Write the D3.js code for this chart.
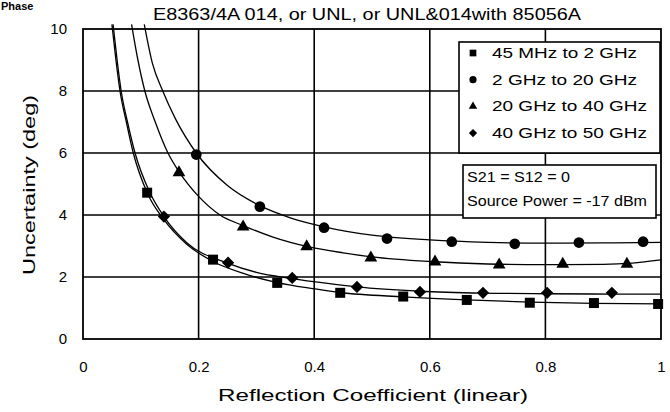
<!DOCTYPE html>
<html>
<head>
<meta charset="utf-8">
<script src="https://cdn.jsdelivr.net/npm/d3@7"></script>
<style>
	body { margin: 0; background: #fff; }
	svg { display: block; font-family: "Liberation Sans", Arial, sans-serif; }
</style>
</head>
<body>
<div id="chart"></div>
<script>

// tick labels
const xTicks = [0, 0.2, 0.4, 0.6, 0.8, 1];
const yTicks = [0, 2, 4, 6, 8, 10];

const seriesNames = ['45 MHz to 2 GHz', '2 GHz to 20 GHz', '20 GHz to 40 GHz', '40 GHz to 50 GHz'];

// measured points
const lowX = [0.111, 0.225, 0.336, 0.445, 0.554, 0.664, 0.773, 0.884, 0.995];
const lowY = [4.72, 2.56, 1.81, 1.49, 1.37, 1.26, 1.17, 1.16, 1.13];
const midX = [0.196, 0.306, 0.417, 0.526, 0.638, 0.747, 0.858, 0.969];
const midY = [5.95, 4.27, 3.59, 3.24, 3.14, 3.07, 3.11, 3.14];
const highX = [0.166, 0.277, 0.387, 0.498, 0.609, 0.720, 0.830, 0.941];
const highY = [5.37, 3.62, 2.98, 2.62, 2.49, 2.39, 2.42, 2.42];
const topX = [0.140, 0.251, 0.362, 0.474, 0.583, 0.692, 0.803, 0.915];
const topY = [3.95, 2.46, 1.97, 1.68, 1.52, 1.49, 1.49, 1.49];

// fitted curves
const lowFitX = [0.050, 0.057, 0.064, 0.075, 0.087, 0.111, 0.140, 0.180, 0.225, 0.280, 0.336, 0.400, 0.445, 0.554, 0.664, 0.773, 0.884, 1];
const lowFitY = [10.15, 9, 8, 7, 6, 4.72, 3.85, 3.05, 2.5, 2.1, 1.82, 1.62, 1.5, 1.36, 1.26, 1.19, 1.15, 1.13];
const midFitX = [0.106, 0.120, 0.138, 0.160, 0.196, 0.250, 0.306, 0.360, 0.417, 0.500, 0.600, 0.700, 0.800, 0.900, 1];
const midFitY = [10.15, 8.9, 8, 7.1, 6.0, 4.95, 4.3, 3.9, 3.62, 3.35, 3.2, 3.12, 3.09, 3.1, 3.12];
const highFitX = [0.084, 0.095, 0.107, 0.125, 0.147, 0.166, 0.200, 0.237, 0.277, 0.330, 0.389, 0.450, 0.500, 0.600, 0.700, 0.800, 0.900, 0.950, 1];
const highFitY = [10.15, 9, 8, 7, 6, 5.4, 4.6, 4.0, 3.66, 3.28, 2.98, 2.78, 2.65, 2.5, 2.42, 2.4, 2.41, 2.45, 2.55];
const topFitX = [0.052, 0.059, 0.066, 0.077, 0.090, 0.115, 0.140, 0.180, 0.250, 0.300, 0.362, 0.420, 0.474, 0.583, 0.692, 0.803, 0.915, 1];
const topFitY = [10.15, 9, 8, 7, 6, 4.75, 3.95, 3.1, 2.45, 2.15, 1.95, 1.8, 1.68, 1.54, 1.48, 1.46, 1.45, 1.45];

class UncertaintyChart {

	constructor(options) {
		this.element = options.element;
		this.series = options.series;
		this.draw();
	}

	draw() {
		this.width = 670;
		this.height = 412;
		this.left = 83;
		this.right = 661;
		this.top = 29;
		this.bottom = 339;

		this.createSVG();
		this.createScales();
		this.createGrid();
		this.createAxes();
		this.createCurves();
		this.createMarkers();
		this.createLegend();
	}

	createSVG() {
		this.svg = d3.select(this.element)
			.append('svg')
				.attr('width', this.width)
				.attr('height', this.height);

		// small heading in the top-left corner
		this.svg.append('text')
			.attr('x', 1).attr('y', 10)
			.attr('font-size', 11).attr('font-weight', 'bold')
			.text('Phase');

		this.svg.append('text')
			.attr('x', 367).attr('y', 20)
			.attr('text-anchor', 'middle')
			.attr('font-size', 16)
			.attr('textLength', 428).attr('lengthAdjust', 'spacingAndGlyphs')
			.text('E8363/4A 014, or UNL, or UNL&014with 85056A');
	}

	createScales() {
		this.xScale = d3.scaleLinear().domain([0, 1]).range([this.left, this.right]);
		this.yScale = d3.scaleLinear().domain([0, 10]).range([this.bottom, this.top]);
	}

	createGrid() {
		const g = this.svg.append('g').attr('stroke', '#000').attr('stroke-width', 1.6);

		g.selectAll('.vg').data(xTicks.slice(1, -1)).join('line')
			.attr('x1', d => this.xScale(d)).attr('x2', d => this.xScale(d))
			.attr('y1', this.top).attr('y2', this.bottom);

		g.selectAll('.hg').data(yTicks.slice(1, -1)).join('line')
			.attr('x1', this.left).attr('x2', this.right)
			.attr('y1', d => this.yScale(d)).attr('y2', d => this.yScale(d));

		this.svg.append('rect')
			.attr('x', this.left).attr('y', this.top)
			.attr('width', this.right - this.left).attr('height', this.bottom - this.top)
			.attr('fill', 'none').attr('stroke', '#000').attr('stroke-width', 1.8);
	}

	createAxes() {
		this.xAxis = d3.axisBottom(this.xScale)
			.tickValues(xTicks)
			.tickSize(0)
			.tickPadding(22)
			.tickFormat(d3.format('~g'));

		this.svg.append('g')
			.attr('class', 'xAxis')
			.attr('transform', `translate(0, ${this.bottom})`)
			.call(this.xAxis);

		this.yAxis = d3.axisLeft(this.yScale)
			.tickValues(yTicks)
			.tickSize(0)
			.tickPadding(16);

		this.svg.append('g')
			.attr('class', 'yAxis')
			.attr('transform', `translate(${this.left}, 0)`)
			.call(this.yAxis);

		this.svg.selectAll('.xAxis .domain, .yAxis .domain').remove();
		this.svg.selectAll('.xAxis text, .yAxis text')
			.attr('font-family', '"Liberation Sans", Arial, sans-serif')
			.attr('font-size', 15)
			.attr('fill', '#000');

		this.svg.append('text')
			.attr('x', 373).attr('y', 401)
			.attr('text-anchor', 'middle')
			.attr('font-size', 16)
			.attr('textLength', 310).attr('lengthAdjust', 'spacingAndGlyphs')
			.text('Reflection Coefficient (linear)');

		this.svg.append('text')
			.attr('transform', 'translate(35, 185) rotate(-90)')
			.attr('text-anchor', 'middle')
			.attr('font-size', 16)
			.attr('textLength', 180).attr('lengthAdjust', 'spacingAndGlyphs')
			.text('Uncertainty (deg)');
	}

	createCurves() {
		const line = d3.line()
			.x(d => this.xScale(d[0]))
			.y(d => this.yScale(d[1]))
			.curve(d3.curveMonotoneX);

		this.svg.append('g').selectAll('path')
			.data(this.series)
			.join('path')
				.attr('d', s => line(d3.zip(s.fitX, s.fitY)))
				.attr('fill', 'none')
				.attr('stroke', '#000')
				.attr('stroke-width', 1.3);
	}

	createMarkers() {
		var that = this;

		this.series.forEach(s => {
			const sym = d3.symbol().type(s.symbol).size(s.size);
			that.svg.append('g').selectAll('path')
				.data(d3.zip(s.x, s.y))
				.join('path')
					.attr('transform', d => `translate(${that.xScale(d[0])}, ${that.yScale(d[1])}) rotate(${s.rotate})`)
					.attr('d', sym)
					.attr('fill', '#000');
		});
	}

	createLegend() {
		const lg = this.svg.append('g');

		lg.append('rect')
			.attr('x', 459).attr('y', 42).attr('width', 201).attr('height', 111)
			.attr('fill', '#fff').attr('stroke', '#000').attr('stroke-width', 1.6);

		const rows = lg.selectAll('.row')
			.data(this.series)
			.join('g')
				.attr('transform', (d, i) => `translate(473, ${53 + i * 26.7})`);

		rows.append('path')
			.attr('d', s => d3.symbol().type(s.symbol).size(s.size * 0.45)())
			.attr('transform', s => `rotate(${s.rotate})`)
			.attr('fill', '#000');

		rows.append('text')
			.attr('x', 19).attr('y', 5)
			.attr('font-size', 15)
			.attr('textLength', (d, i) => [145, 145, 155, 155][i])
			.attr('lengthAdjust', 'spacingAndGlyphs')
			.text(s => s.name);

		const note = this.svg.append('g');

		note.append('rect')
			.attr('x', 463).attr('y', 165).attr('width', 193).attr('height', 53)
			.attr('fill', '#fff').attr('stroke', '#000').attr('stroke-width', 1.6);

		note.append('text')
			.attr('x', 467).attr('y', 182)
			.attr('font-size', 14)
			.attr('textLength', 103).attr('lengthAdjust', 'spacingAndGlyphs')
			.text('S21 = S12 = 0');

		note.append('text')
			.attr('x', 467).attr('y', 206)
			.attr('font-size', 14)
			.attr('textLength', 180).attr('lengthAdjust', 'spacingAndGlyphs')
			.text('Source Power = -17 dBm');
	}

}

new UncertaintyChart({
	element: '#chart',
	series: [
		{ name: seriesNames[0], x: lowX, y: lowY, fitX: lowFitX, fitY: lowFitY, symbol: d3.symbolSquare, size: 100, rotate: 0 },
		{ name: seriesNames[1], x: midX, y: midY, fitX: midFitX, fitY: midFitY, symbol: d3.symbolCircle, size: 90, rotate: 0 },
		{ name: seriesNames[2], x: highX, y: highY, fitX: highFitX, fitY: highFitY, symbol: d3.symbolTriangle, size: 70, rotate: 0 },
		{ name: seriesNames[3], x: topX, y: topY, fitX: topFitX, fitY: topFitY, symbol: d3.symbolSquare, size: 75, rotate: 45 }
	]
});

</script>
</body>
</html>
